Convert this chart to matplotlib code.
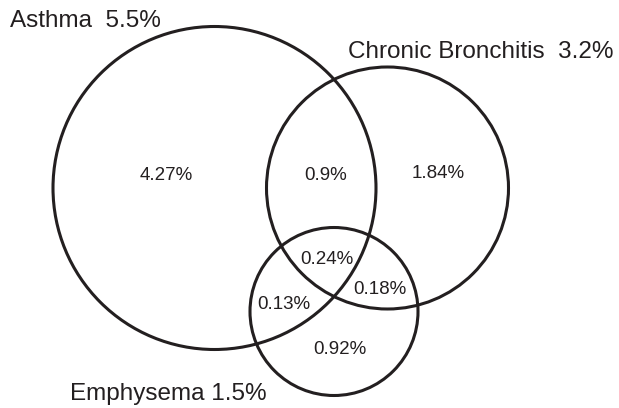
import matplotlib.pyplot as plt
from matplotlib.patches import Circle

plt.rcParams['font.family'] = ['Liberation Sans', 'DejaVu Sans']

# Prevalence of each condition
sets = ['Asthma', 'Chronic Bronchitis', 'Emphysema']
totals = [5.5, 3.2, 1.5]

# Region values (Venn segments)
regions = ['A only', 'A&C', 'C only', 'A&C&E', 'C&E', 'A&E', 'E only']
values = [4.27, 0.9, 1.84, 0.24, 0.18, 0.13, 0.92]

ink = '#231f20'

# circle layout in pixel coordinates (x, y, r)
circles = [(214.5, 188, 161.5), (387.5, 188, 121), (334, 311.5, 84)]
label_pos = [(10, 21), (348, 52), (70, 394)]
label_fmt = ['{}  {}%', '{}  {}%', '{} {}%']
region_pos = [(166, 176), (325.5, 176), (438, 173), (327, 259.5),
              (379.5, 290), (284, 304.5), (340, 349.5)]

fig = plt.figure(figsize=(6.19, 4.08), dpi=100)
ax = fig.add_axes([0, 0, 1, 1])
ax.set_xlim(0, 619)
ax.set_ylim(408, 0)
ax.set_aspect('equal')
ax.axis('off')

for (cx, cy, r) in circles:
    ax.add_patch(Circle((cx, cy), r, fill=False, edgecolor=ink, lw=2.2))

for name, tot, (x, y), fmt in zip(sets, totals, label_pos, label_fmt):
    ax.text(x, y, fmt.format(name, tot), fontsize=17.5, color=ink,
            ha='left', va='center')

for v, (x, y) in zip(values, region_pos):
    ax.text(x, y, f'{v:g}%', fontsize=13.5, color=ink, ha='center', va='center')

fig.savefig('out.png', dpi=100, facecolor='white')
